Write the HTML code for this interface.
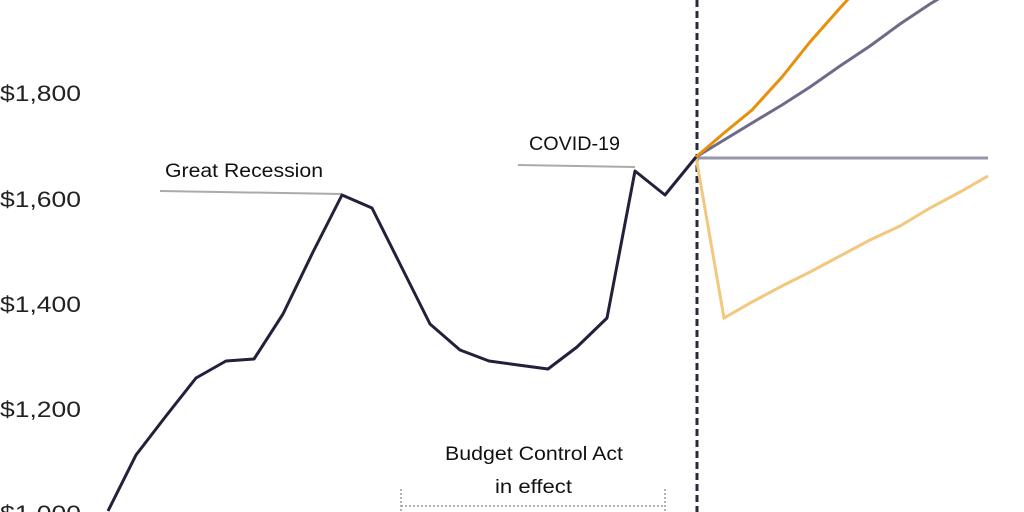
<!DOCTYPE html>
<html><head><style>body{margin:0;background:#fff}svg{display:block}</style></head><body>
<svg width="1024" height="512" viewBox="0 0 1024 512" xmlns="http://www.w3.org/2000/svg" font-family="Liberation Sans, sans-serif">
<g font-size="22" fill="#222">
<text x="0" y="101" textLength="81" lengthAdjust="spacingAndGlyphs">$1,800</text>
<text x="0" y="207" textLength="81" lengthAdjust="spacingAndGlyphs">$1,600</text>
<text x="0" y="312" textLength="81" lengthAdjust="spacingAndGlyphs">$1,400</text>
<text x="0" y="417" textLength="81" lengthAdjust="spacingAndGlyphs">$1,200</text>
<text x="0" y="521" textLength="81" lengthAdjust="spacingAndGlyphs">$1,000</text>
<text x="0" y="-4" textLength="81" lengthAdjust="spacingAndGlyphs">$2,000</text>
</g>
<g font-size="19" fill="#111">
<text x="165" y="177" textLength="158" lengthAdjust="spacingAndGlyphs">Great Recession</text>
<text x="529" y="150" textLength="91" lengthAdjust="spacingAndGlyphs">COVID-19</text>
<text x="445" y="460" textLength="178" lengthAdjust="spacingAndGlyphs">Budget Control Act</text>
<text x="495" y="493" textLength="77" lengthAdjust="spacingAndGlyphs">in effect</text>
</g>
<line x1="160" y1="191" x2="342" y2="194" stroke="#aaa" stroke-width="2"/>
<line x1="518" y1="165" x2="635" y2="167" stroke="#aaa" stroke-width="2"/>
<g stroke="#999" stroke-width="1.5" stroke-dasharray="2,2" fill="none">
<line x1="401" y1="506" x2="665" y2="506"/>
<line x1="401" y1="489" x2="401" y2="512"/>
<line x1="665" y1="489" x2="665" y2="512"/>
</g>
<line x1="697" y1="0" x2="697" y2="512" stroke="#2a2840" stroke-width="3" stroke-dasharray="7,4"/>
<polyline fill="none" stroke="#9a94ad" stroke-width="3" points="696,158 988,158"/>
<polyline fill="none" stroke="#f2c77e" stroke-width="3" points="696,157 724,318 752,302 782,286 810,272 840,256 870,240 900,226 930,208 960,192 988,176"/>
<polyline fill="none" stroke="#6f6a88" stroke-width="3" points="696,157 724,140 752,123 782,105 810,87 840,66 870,46 900,24 930,4 945,-5"/>
<polyline fill="none" stroke="#e8900c" stroke-width="3" points="696,157 724,133 752,110 782,77 810,42 840,8 852,-5"/>
<polyline fill="none" stroke="#22203a" stroke-width="3" stroke-linejoin="round" points="108,511 136,455 166,416 196,378 226,361 254,359 283,314 313,252 342,195 372,208 402,268 430,324 460,350 489,361 518,365 548,369 577,347 607,318 635,171 665,195 696,157"/>
</svg>
</body></html>
